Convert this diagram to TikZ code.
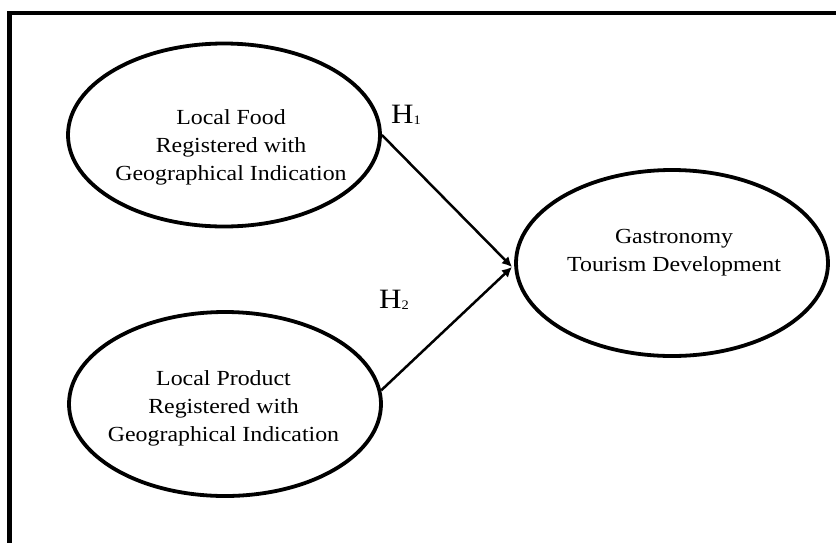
\documentclass[tikz,border=0pt]{standalone}
\usepackage{fontspec}
\setmainfont{Liberation Serif}[FakeStretch=1.11]
\usetikzlibrary{shapes.geometric,arrows.meta}
\tikzset{
  oval/.style={draw=black, line width=3.8pt, ellipse, inner sep=0pt},
  txt/.style={align=center, inner sep=0pt, font=\fontsize{21.5}{28}\selectfont},
  hyp/.style={inner sep=0pt, anchor=base west, font=\fontsize{28}{30}\selectfont},
  link/.style={line width=2.5pt, -{Latex[length=10pt,width=10pt]}},
  frameline/.style={line width=4.5pt, line join=miter}
}
\newcommand{\hsub}[1]{\raisebox{-1pt}{\fontsize{13}{13}\selectfont #1}}
\begin{document}
\begin{tikzpicture}[x=1pt,y=-1pt]
\useasboundingbox[fill=white] (0,0) rectangle (836,542);
\draw[frameline] (9.5,560) -- (9.5,13) -- (860,13);

\node[oval, minimum width=312pt, minimum height=183pt] (e1) at (224,135) {};
\node[oval, minimum width=312pt, minimum height=184pt] (e2) at (225,404) {};
\node[oval, minimum width=312pt, minimum height=186pt] (e3) at (672,263) {};

\node[txt] (t1) at (231,147) {Local Food\\Registered with\\Geographical Indication};
\node[txt] (t2) at (223.5,408) {Local Product\\Registered with\\Geographical Indication};
\node[txt] (t3) at (674,253) {Gastronomy\\Tourism Development};

\coordinate (J) at (512,267);
\draw[link] (e1.east) -- (J);
\draw[link] (e2.5) -- (J);

\node[hyp] (h1) at (391,123) {H\hsub{1}};
\node[hyp] (h2) at (379,308) {H\hsub{2}};
\end{tikzpicture}
\end{document}
